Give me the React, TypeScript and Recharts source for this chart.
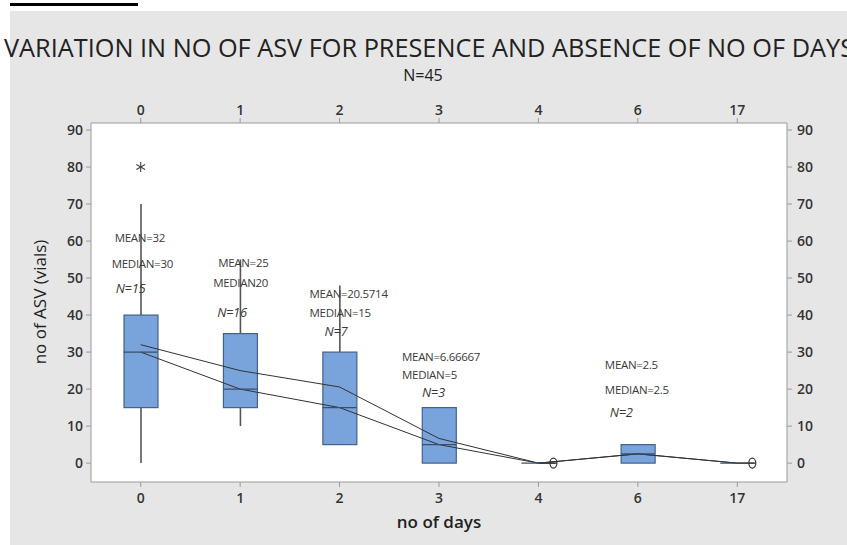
import { ComposedChart, Bar, Line, Scatter, XAxis, YAxis, ReferenceDot } from 'recharts'

// no of days groups
const days = ['0', '1', '2', '3', '4', '6', '17']
// box statistics (no of ASV, vials)
const q1 = [15, 15, 5, 0, 0, 0, 0]
const q3 = [40, 35, 30, 15, 0, 5, 0]
const medians = [30, 20, 15, 5, 0, 2.5, 0]
const means = [32, 25, 20.5714, 6.66667, 0, 2.5, 0]
const whiskerLow = [0, 10, 5, 0, 0, 0, 0]
const whiskerHigh = [70, 55, 48, 15, 0, 5, 0]
const outliers: (number | null)[] = [80, null, null, null, null, null, null]
const yTicks = [0, 10, 20, 30, 40, 50, 60, 70, 80, 90]

// annotation text blocks, anchored in data units
const notes = [
  { day: '0', y: 60.8, dx: -26, text: 'MEAN=32' },
  { day: '0', y: 53.8, dx: -29, text: 'MEDIAN=30' },
  { day: '0', y: 47.3, dx: -25, text: 'N=15', italic: true },
  { day: '1', y: 54.1, dx: -22, text: 'MEAN=25' },
  { day: '1', y: 48.6, dx: -27, text: 'MEDIAN20' },
  { day: '1', y: 40.8, dx: -23, text: 'N=16', italic: true },
  { day: '2', y: 45.6, dx: -30, text: 'MEAN=20.5714' },
  { day: '2', y: 40.5, dx: -30, text: 'MEDIAN=15' },
  { day: '2', y: 35.6, dx: -15, text: 'N=7', italic: true },
  { day: '3', y: 28.8, dx: -37, text: 'MEAN=6.66667' },
  { day: '3', y: 23.9, dx: -37, text: 'MEDIAN=5' },
  { day: '3', y: 19.0, dx: -17, text: 'N=3', italic: true },
  { day: '6', y: 26.5, dx: -33, text: 'MEAN=2.5' },
  { day: '6', y: 19.7, dx: -33, text: 'MEDIAN=2.5' },
  { day: '6', y: 13.8, dx: -28, text: 'N=2', italic: true },
]

const data = days.map((day, i) => ({
  day,
  box: [q1[i], q3[i]],
  whisker: [whiskerLow[i], whiskerHigh[i]],
  median: medians[i],
  mean: means[i],
  outlier: outliers[i],
  zero: q3[i] === 0 && whiskerHigh[i] === 0 ? 0 : null,
}))

const FONT = '"Open Sans", "Segoe UI", sans-serif'
const BOX_W = 34
const tickStyle = { fill: '#333', fontSize: 14, fontWeight: 600, fontFamily: FONT }

const WhiskerShape = (p: any) => {
  if (!p.height) return <g />
  const cx = p.x + p.width / 2
  return <line x1={cx} x2={cx} y1={p.y} y2={p.y + p.height} stroke="#555" strokeWidth={1.6} />
}

const BoxShape = (p: any) => {
  if (!p.height) return <g />
  return (
    <rect x={p.x} y={p.y} width={p.width} height={p.height} fill="#79a3db" stroke="#44618c" strokeWidth={1.2} />
  )
}

const MedianShape = (p: any) => {
  if (p.cx == null || p.cy == null) return <g />
  return <line x1={p.cx - BOX_W / 2} x2={p.cx + BOX_W / 2} y1={p.cy} y2={p.cy} stroke="#3a4f6e" strokeWidth={1.2} />
}

const StarShape = (p: any) => {
  if (p.payload?.outlier == null) return <g />
  const r = 5
  return (
    <g stroke="#444" strokeWidth={1.1}>
      <line x1={p.cx} x2={p.cx} y1={p.cy - r} y2={p.cy + r} />
      <line x1={p.cx - r * 0.87} x2={p.cx + r * 0.87} y1={p.cy - r / 2} y2={p.cy + r / 2} />
      <line x1={p.cx - r * 0.87} x2={p.cx + r * 0.87} y1={p.cy + r / 2} y2={p.cy - r / 2} />
    </g>
  )
}

const ZeroShape = (p: any) => {
  if (p.payload?.zero == null) return <g />
  const sx = p.cx + 15
  return (
    <g stroke="#333" strokeWidth={1.2} fill="none">
      <line x1={p.cx} x2={sx - 4} y1={p.cy} y2={p.cy} />
      <ellipse cx={sx} cy={p.cy} rx={3.5} ry={5} />
      <line x1={sx - 3.5} x2={sx + 3.5} y1={p.cy} y2={p.cy} />
    </g>
  )
}

export default function App() {
  return (
    <div style={{ position: 'absolute', left: 0, top: 0, width: 847, height: 545, background: '#fff', overflow: 'hidden' }}>
      <div style={{ position: 'absolute', left: 10, top: 3, width: 128, height: 3, background: '#000' }} />
      <div style={{ position: 'absolute', left: 10, top: 11, right: 0, bottom: 0, background: '#e6e6e6' }} />
      <div style={{ position: 'absolute', left: 91, top: 123, width: 696, height: 359, background: '#fff' }} />
      <div style={{ position: 'absolute', left: 0, top: 0 }}>
        <ComposedChart width={847} height={545} data={data} margin={{ top: 93, right: 0, bottom: 33, left: 0 }}>
          <XAxis
            xAxisId="bottom"
            dataKey="day"
            orientation="bottom"
            height={30}
            tick={tickStyle}
            tickSize={5}
            tickMargin={6}
            stroke="#9a9a9a"
          />
          <XAxis
            xAxisId="top"
            dataKey="day"
            orientation="top"
            height={30}
            tick={tickStyle}
            tickSize={5}
            tickMargin={3}
            stroke="#9a9a9a"
          />
          <YAxis
            yAxisId="left"
            width={91}
            domain={[-5.1, 91.9]}
            ticks={yTicks}
            allowDataOverflow
            tick={tickStyle}
            tickSize={5}
            tickMargin={3}
            stroke="#9a9a9a"
          />
          <YAxis
            yAxisId="right"
            orientation="right"
            width={60}
            domain={[-5.1, 91.9]}
            ticks={yTicks}
            allowDataOverflow
            tick={tickStyle}
            tickSize={5}
            tickMargin={5}
            stroke="#9a9a9a"
          />
          <Bar xAxisId="top" yAxisId="left" dataKey="whisker" barSize={BOX_W} shape={WhiskerShape} isAnimationActive={false} />
          <Bar xAxisId="bottom" yAxisId="left" dataKey="box" barSize={BOX_W} shape={BoxShape} isAnimationActive={false} />
          <Scatter xAxisId="bottom" yAxisId="left" dataKey="median" shape={MedianShape} isAnimationActive={false} />
          <Line xAxisId="bottom" yAxisId="left" dataKey="mean" stroke="#333" strokeWidth={1} dot={false} isAnimationActive={false} />
          <Line xAxisId="bottom" yAxisId="left" dataKey="median" stroke="#333" strokeWidth={1} dot={false} isAnimationActive={false} />
          <Scatter xAxisId="bottom" yAxisId="left" dataKey="outlier" shape={StarShape} isAnimationActive={false} />
          <Scatter xAxisId="bottom" yAxisId="left" dataKey="zero" shape={ZeroShape} isAnimationActive={false} />
          {notes.map((n) => (
            <ReferenceDot
              key={n.day + n.text}
              xAxisId="bottom"
              yAxisId="left"
              x={n.day}
              y={n.y}
              r={0}
              shape={(p: any) => (
                <text
                  x={p.cx + n.dx}
                  y={p.cy}
                  dy="0.35em"
                  fill="#3a3a3a"
                  fontFamily={FONT}
                  fontSize={n.italic ? 13 : 11.5}
                  fontStyle={n.italic ? 'italic' : 'normal'}
                  letterSpacing={-0.3}
                >
                  {n.text}
                </text>
              )}
            />
          ))}
        </ComposedChart>
      </div>
      <svg width={847} height={545} style={{ position: 'absolute', left: 0, top: 0, pointerEvents: 'none' }}>
        <text x={4} y={57} fontFamily={FONT} fontSize={25} fill="#222" textLength={850} lengthAdjust="spacingAndGlyphs">
          VARIATION IN NO OF ASV FOR PRESENCE AND ABSENCE OF NO OF DAYS
        </text>
        <text x={423} y={81} textAnchor="middle" fontFamily={FONT} fontSize={16} fill="#222">
          N=45
        </text>
        <text x={439} y={528} textAnchor="middle" fontFamily={FONT} fontSize={17} fontWeight={600} fill="#222">
          no of days
        </text>
        <text
          x={0}
          y={0}
          transform="translate(46 302) rotate(-90)"
          textAnchor="middle"
          fontFamily={FONT}
          fontSize={17}
          fill="#222"
        >
          no of ASV (vials)
        </text>
      </svg>
    </div>
  )
}
